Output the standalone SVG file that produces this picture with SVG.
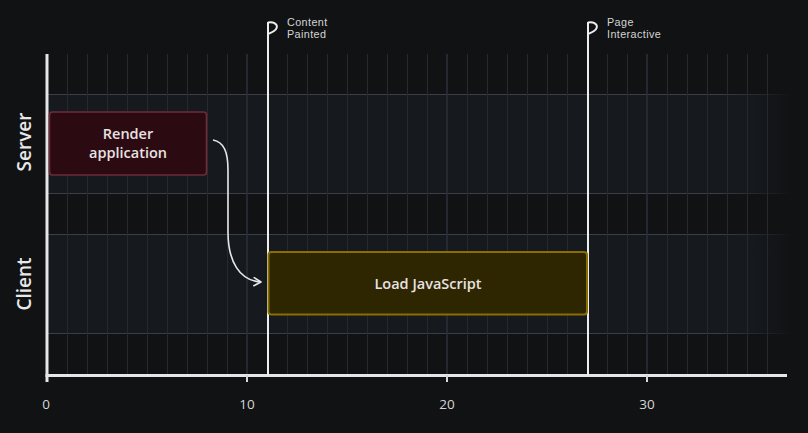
<svg xmlns="http://www.w3.org/2000/svg" width="808" height="433" viewBox="0 0 808 433">
  <defs>
    <linearGradient id="bandFill" x1="0" y1="0" x2="1" y2="0">
      <stop offset="0" stop-color="#161a1f"/>
      <stop offset="0.94" stop-color="#161a1f"/>
      <stop offset="1" stop-color="#161a1f" stop-opacity="0"/>
    </linearGradient>
    <linearGradient id="bandLine" x1="0" y1="0" x2="1" y2="0">
      <stop offset="0" stop-color="#3a3e45"/>
      <stop offset="0.9" stop-color="#3a3e45"/>
      <stop offset="1" stop-color="#3a3e45" stop-opacity="0"/>
    </linearGradient>
    <marker id="arrow" viewBox="0 0 10 10" refX="8" refY="5" markerWidth="10" markerHeight="10" markerUnits="userSpaceOnUse" orient="auto">
      <path d="M1,1 L8,5 L1,9" fill="none" stroke="#e8e8e8" stroke-width="1.6" stroke-linecap="round" stroke-linejoin="round"/>
    </marker>
    <style>
      .grid { stroke: #262a2f; stroke-width: 1; }
      .gridMajor { stroke: #2a2f38; stroke-width: 1.6; }
      .axis { stroke: #e6e6e6; stroke-width: 3; fill: none; }
      .tick { stroke: #d8d8d8; stroke-width: 2; }
      .tickLabel { font-family: "Open Sans", "Liberation Sans", sans-serif; font-size: 13.5px; fill: #d6d6d6; text-anchor: middle; }
      .lane { font-family: "Open Sans", "Liberation Sans", sans-serif; font-size: 19px; font-weight: 600; fill: #e8e8e8; text-anchor: middle; }
      .milestone { stroke: #eeeeee; stroke-width: 2; fill: none; }
      .msLabel { font-family: "Liberation Sans", Arial, sans-serif; font-size: 10.8px; letter-spacing: 0.4px; fill: #d4d4d4; }
      .nodeText { font-family: "Open Sans", "Liberation Sans", sans-serif; font-size: 14.5px; font-weight: 600; fill: #e8e2e2; text-anchor: middle; }
      .connector { stroke: #e8e8e8; stroke-width: 1.6; fill: none; }
    </style>
  </defs>

  <rect x="0" y="0" width="808" height="433" fill="#111214"/>

  <!-- lane bands -->
  <g id="bands">
    <rect x="47" y="94" width="745" height="99" fill="url(#bandFill)"/>
    <rect x="47" y="234" width="745" height="99" fill="url(#bandFill)"/>
    <rect x="47" y="94" width="745" height="1" fill="url(#bandLine)"/>
    <rect x="47" y="193" width="745" height="1" fill="url(#bandLine)"/>
    <rect x="47" y="234" width="745" height="1" fill="url(#bandLine)"/>
    <rect x="47" y="333" width="745" height="1" fill="url(#bandLine)"/>
  </g>

  <!-- vertical grid -->
  <g id="grid">
    <line class="grid" x1="67.5" y1="54" x2="67.5" y2="375"/>
    <line class="grid" x1="87.5" y1="54" x2="87.5" y2="375"/>
    <line class="grid" x1="107.5" y1="54" x2="107.5" y2="375"/>
    <line class="grid" x1="127.5" y1="54" x2="127.5" y2="375"/>
    <line class="grid" x1="147.5" y1="54" x2="147.5" y2="375"/>
    <line class="grid" x1="167.5" y1="54" x2="167.5" y2="375"/>
    <line class="grid" x1="187.5" y1="54" x2="187.5" y2="375"/>
    <line class="grid" x1="207.5" y1="54" x2="207.5" y2="375"/>
    <line class="grid" x1="227.5" y1="54" x2="227.5" y2="375"/>
    <line class="gridMajor" x1="247" y1="54" x2="247" y2="375"/>
    <line class="grid" x1="267.5" y1="54" x2="267.5" y2="375"/>
    <line class="grid" x1="287.5" y1="54" x2="287.5" y2="375"/>
    <line class="grid" x1="307.5" y1="54" x2="307.5" y2="375"/>
    <line class="grid" x1="327.5" y1="54" x2="327.5" y2="375"/>
    <line class="grid" x1="347.5" y1="54" x2="347.5" y2="375"/>
    <line class="grid" x1="367.5" y1="54" x2="367.5" y2="375"/>
    <line class="grid" x1="387.5" y1="54" x2="387.5" y2="375"/>
    <line class="grid" x1="407.5" y1="54" x2="407.5" y2="375"/>
    <line class="grid" x1="427.5" y1="54" x2="427.5" y2="375"/>
    <line class="gridMajor" x1="447" y1="54" x2="447" y2="375"/>
    <line class="grid" x1="467.5" y1="54" x2="467.5" y2="375"/>
    <line class="grid" x1="487.5" y1="54" x2="487.5" y2="375"/>
    <line class="grid" x1="507.5" y1="54" x2="507.5" y2="375"/>
    <line class="grid" x1="527.5" y1="54" x2="527.5" y2="375"/>
    <line class="grid" x1="547.5" y1="54" x2="547.5" y2="375"/>
    <line class="grid" x1="567.5" y1="54" x2="567.5" y2="375"/>
    <line class="grid" x1="587.5" y1="54" x2="587.5" y2="375"/>
    <line class="grid" x1="607.5" y1="54" x2="607.5" y2="375"/>
    <line class="grid" x1="627.5" y1="54" x2="627.5" y2="375"/>
    <line class="gridMajor" x1="647" y1="54" x2="647" y2="375"/>
    <line class="grid" x1="667.5" y1="54" x2="667.5" y2="375"/>
    <line class="grid" x1="687.5" y1="54" x2="687.5" y2="375"/>
    <line class="grid" x1="707.5" y1="54" x2="707.5" y2="375"/>
    <line class="grid" x1="727.5" y1="54" x2="727.5" y2="375"/>
    <line class="grid" x1="747.5" y1="54" x2="747.5" y2="375"/>
    <line class="grid" x1="767.5" y1="54" x2="767.5" y2="375"/>
  </g>

  <!-- axes -->
  <g id="axes">
    <path class="axis" d="M47,54 L47,382"/>
    <line class="axis" x1="45.5" y1="375.5" x2="787" y2="375.5"/>
    <line class="tick" x1="247" y1="375" x2="247" y2="382"/>
    <line class="tick" x1="447" y1="375" x2="447" y2="382"/>
    <line class="tick" x1="647" y1="375" x2="647" y2="382"/>
    <text class="tickLabel" x="46" y="409">0</text>
    <text class="tickLabel" x="247" y="409">10</text>
    <text class="tickLabel" x="447" y="409">20</text>
    <text class="tickLabel" x="647" y="409">30</text>
  </g>

  <!-- lane labels -->
  <g id="lane-labels">
    <text class="lane" transform="translate(31,142) rotate(-90)">Server</text>
    <text class="lane" transform="translate(31,284) rotate(-90)">Client</text>
  </g>

  <!-- milestones -->
  <g id="milestone-content-painted">
    <path class="milestone" d="M268,22 L268,375"/>
    <path class="milestone" d="M268,22.5 C276,21 280,27 274,31 C272,32.5 270,33 268,34"/>
    <text class="msLabel" x="287" y="25.5">Content</text>
    <text class="msLabel" x="287" y="38">Painted</text>
  </g>
  <g id="milestone-page-interactive">
    <path class="milestone" d="M588,22 L588,375"/>
    <path class="milestone" d="M588,22.5 C596,21 600,27 594,31 C592,32.5 590,33 588,34"/>
    <text class="msLabel" x="607" y="25.5">Page</text>
    <text class="msLabel" x="607" y="38">Interactive</text>
  </g>

  <!-- nodes -->
  <g id="node-render">
    <rect x="49.5" y="112" width="157" height="63" rx="3" fill="#2c0a12" stroke="#6f2b3b" stroke-width="1.6"/>
    <text class="nodeText" x="128" y="139">Render</text>
    <text class="nodeText" x="128" y="158">application</text>
  </g>
  <g id="node-load-js">
    <rect x="268.5" y="252" width="318.5" height="62.5" rx="3" fill="#2e2600" stroke="#8a6f00" stroke-width="2"/>
    <text class="nodeText" x="428" y="289">Load JavaScript</text>
  </g>

  <!-- connectors -->
  <g id="connectors">
    <path class="connector" d="M213,140 C224,142 228,152 228,170 L228,232 C228,262 240,281 261,282" marker-end="url(#arrow)"/>
  </g>
</svg>
